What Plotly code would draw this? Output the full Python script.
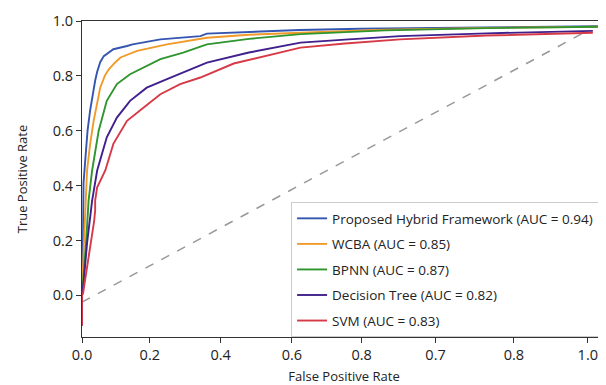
import plotly.graph_objects as go

# Tick positions on the (mislabeled) false-positive-rate axis, and their printed labels
x_tickvals = [0.0, 0.134, 0.274, 0.415, 0.553, 0.699, 0.854, 1.0]
x_ticktext = ["0.0", "0.2", "0.4", "0.6", "0.8", "0.7", "0.8", "1.0"]
y_tickvals = [0.0, 0.2, 0.4, 0.6, 0.8, 1.0]
y_ticktext = ["0.0", "0.2", "0.4", "0.6", "0.8", "1.0"]

names = [
    "Proposed Hybrid Framework (AUC = 0.94)",
    "WCBA (AUC = 0.85)",
    "BPNN (AUC = 0.87)",
    "Decision Tree (AUC = 0.82)",
    "SVM (AUC = 0.83)",
]
colors = ["#3556b0", "#f09a2a", "#2f952f", "#40208c", "#d63a47"]

hybrid_fpr = [0.0, 0.0, 0.002, 0.003, 0.008, 0.011, 0.016, 0.020, 0.026, 0.030, 0.036, 0.043, 0.056,
              0.062, 0.089, 0.10, 0.155, 0.234, 0.247, 0.32, 0.43, 0.55, 0.70, 0.85, 1.02]
hybrid_tpr = [-0.11, 0.0, 0.20, 0.41, 0.53, 0.60, 0.673, 0.72, 0.782, 0.815, 0.850, 0.872, 0.888,
              0.897, 0.909, 0.915, 0.933, 0.945, 0.954, 0.960, 0.967, 0.972, 0.975, 0.978, 0.981]

wcba_fpr = [0.0, 0.0, 0.004, 0.008, 0.010, 0.016, 0.023, 0.030, 0.036, 0.045, 0.053, 0.065, 0.076,
            0.109, 0.168, 0.247, 0.33, 0.432, 0.60, 0.80, 1.02]
wcba_tpr = [-0.11, 0.0, 0.20, 0.345, 0.455, 0.55, 0.636, 0.70, 0.757, 0.80, 0.824, 0.848, 0.867,
            0.891, 0.915, 0.939, 0.950, 0.957, 0.968, 0.975, 0.979]

bpnn_fpr = [0.0, 0.0, 0.008, 0.013, 0.020, 0.033, 0.049, 0.069, 0.095, 0.122, 0.155, 0.20, 0.247,
            0.33, 0.432, 0.60, 0.80, 1.02]
bpnn_tpr = [-0.11, 0.0, 0.19, 0.345, 0.455, 0.60, 0.709, 0.77, 0.806, 0.83, 0.861, 0.885, 0.915,
            0.935, 0.952, 0.966, 0.974, 0.979]

tree_fpr = [0.0, 0.0, 0.003, 0.010, 0.020, 0.030, 0.049, 0.069, 0.095, 0.128, 0.168, 0.208, 0.247,
            0.33, 0.432, 0.52, 0.629, 0.80, 1.01]
tree_tpr = [-0.11, 0.0, 0.044, 0.19, 0.345, 0.455, 0.576, 0.648, 0.709, 0.757, 0.788, 0.818, 0.848,
            0.885, 0.921, 0.932, 0.945, 0.955, 0.964]

svm_fpr = [0.0, 0.0, 0.002, 0.010, 0.016, 0.020, 0.024, 0.026, 0.026, 0.030, 0.046, 0.062, 0.089,
           0.122, 0.155, 0.194, 0.234, 0.30, 0.432, 0.52, 0.629, 0.80, 1.01]
svm_tpr = [-0.11, 0.0, 0.007, 0.103, 0.16, 0.212, 0.27, 0.309, 0.345, 0.394, 0.455, 0.552, 0.636,
           0.685, 0.733, 0.77, 0.794, 0.845, 0.903, 0.918, 0.933, 0.947, 0.957]

chance_fpr = [0.0, 1.0]
chance_tpr = [-0.025, 0.965]

curves = [
    (hybrid_fpr, hybrid_tpr),
    (wcba_fpr, wcba_tpr),
    (bpnn_fpr, bpnn_tpr),
    (tree_fpr, tree_tpr),
    (svm_fpr, svm_tpr),
]

fig = go.Figure()
fig.add_trace(go.Scatter(x=chance_fpr, y=chance_tpr, mode="lines", showlegend=False,
                         line=dict(color="#999999", width=1.5, dash="dash")))
for i, ((fx, ty), name, col) in enumerate(zip(curves, names, colors)):
    fig.add_trace(go.Scatter(x=fx, y=ty, mode="lines", name=name, legendgroup=f"g{i}",
                             line=dict(color=col, width=1.9)))

font_family = "Open Sans, Noto Sans, DejaVu Sans, sans-serif"
# The page body has an 8px margin, so the figure is 8px smaller and margins shifted by 8px
fig.update_layout(
    width=598, height=377,
    margin=dict(l=74, r=0, t=13, b=48),
    paper_bgcolor="white", plot_bgcolor="white",
    font=dict(family=font_family, size=13, color="#222222"),
    showlegend=True,
    legend=dict(
        x=0.399, y=0.427, xanchor="left", yanchor="top",
        bgcolor="white", bordercolor="#cccccc", borderwidth=1,
        font=dict(size=13.5, color="#222222"),
        tracegroupgap=5,
    ),
    xaxis=dict(
        range=[0, 1.036], tickmode="array", tickvals=x_tickvals, ticktext=x_ticktext,
        showgrid=False, zeroline=False, showline=True, linecolor="#333333", linewidth=1,
        mirror=True, ticks="outside", ticklen=5, tickcolor="#333333",
        tickfont=dict(size=14.5),
        title=dict(text="False Positive Rate", font=dict(size=13), standoff=10),
        automargin=False,
    ),
    yaxis=dict(
        range=[-0.152, 1.0], tickmode="array", tickvals=y_tickvals, ticktext=y_ticktext,
        showgrid=False, zeroline=False, showline=True, linecolor="#333333", linewidth=1,
        ticks="outside", ticklen=5, tickcolor="#333333",
        tickfont=dict(size=14.5),
        title=dict(text="True Positive Rate", font=dict(size=13), standoff=22),
        automargin=False,
    ),
)

fig.write_html("out.html")
